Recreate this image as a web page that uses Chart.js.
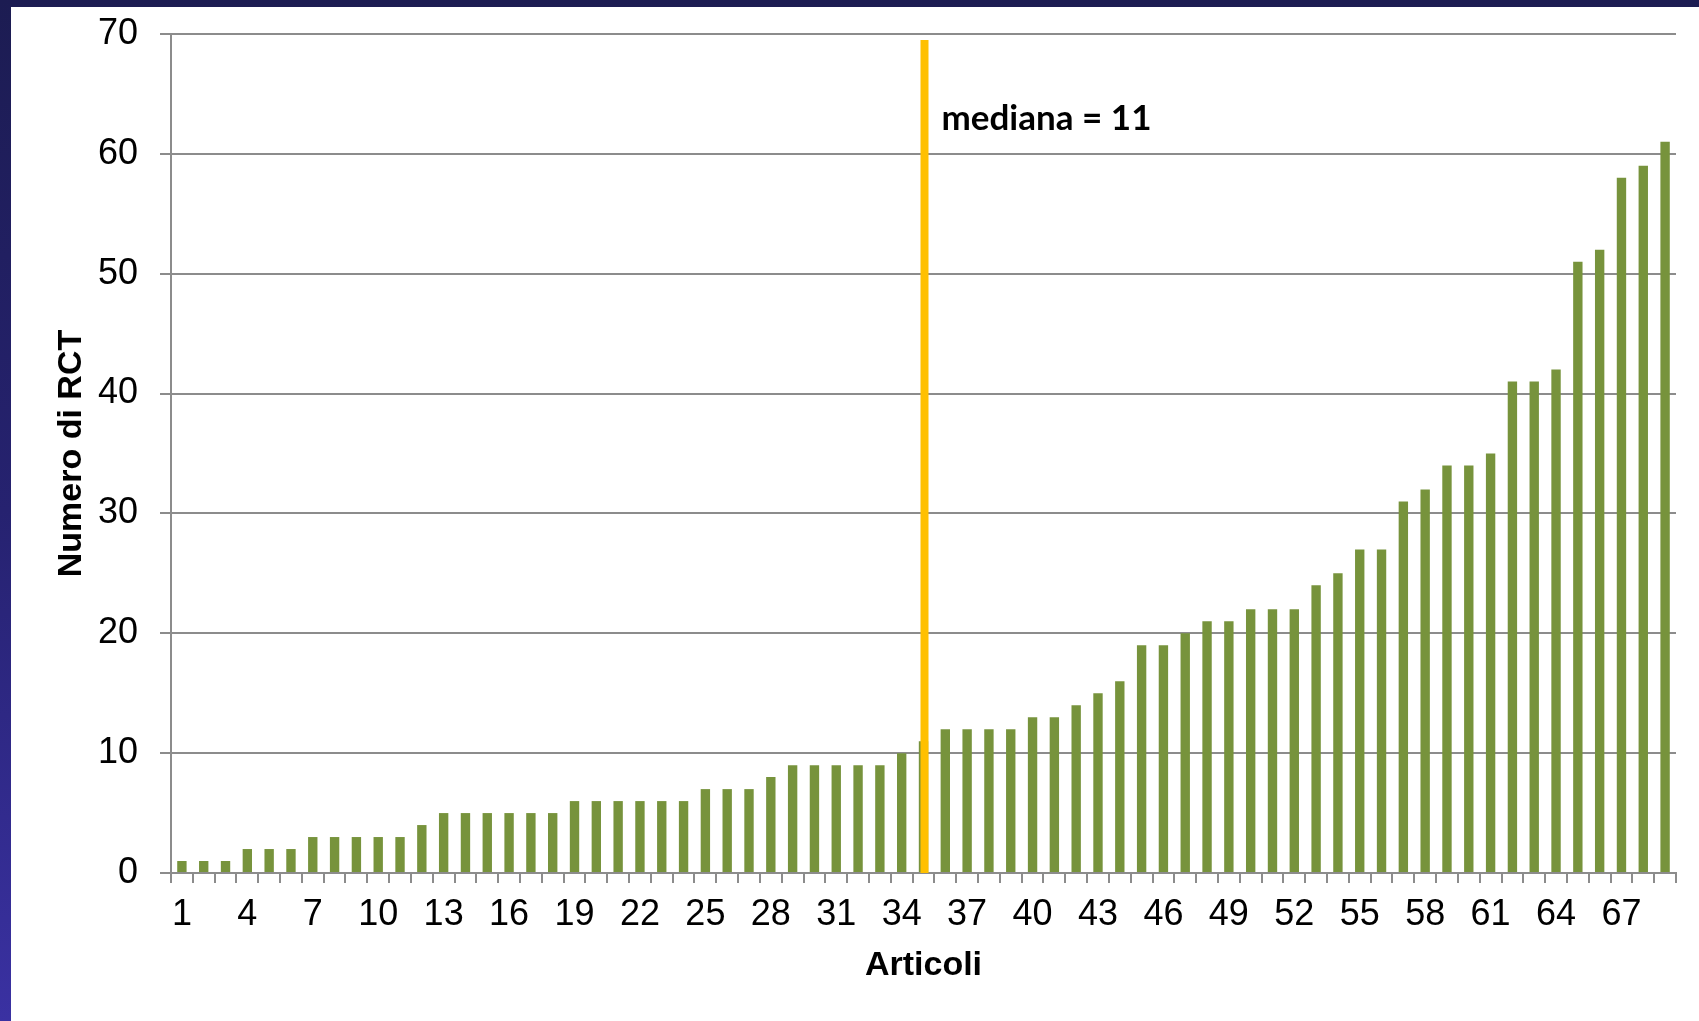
<!DOCTYPE html>
<html>
<head>
<meta charset="utf-8">
<title>Numero di RCT per articolo</title>
<script src="https://cdn.jsdelivr.net/npm/chart.js@4.4.0/dist/chart.umd.min.js"></script>
<style>
  html, body {
    margin: 0; padding: 0; width: 1699px; height: 1021px; overflow: hidden;
    background: linear-gradient(180deg, #1c1c52 0%, #262270 50%, #3a31a2 100%);
  }
  #panel { position: absolute; left: 11px; top: 7px; width: 1688px; height: 1014px; background: #ffffff; }
  canvas { display: block; }
</style>
</head>
<body>
<div id="panel"><canvas id="chart" width="1688" height="1014"></canvas></div>
<script>
// Articles, sorted by number of RCTs
const articoli = [
  1, 2, 3, 4, 5, 6, 7, 8, 9, 10,
  11, 12, 13, 14, 15, 16, 17, 18, 19, 20,
  21, 22, 23, 24, 25, 26, 27, 28, 29, 30,
  31, 32, 33, 34, 35, 36, 37, 38, 39, 40,
  41, 42, 43, 44, 45, 46, 47, 48, 49, 50,
  51, 52, 53, 54, 55, 56, 57, 58, 59, 60,
  61, 62, 63, 64, 65, 66, 67, 68, 69
];

// Number of RCTs in each article
const numeroRCT = [
  1, 1, 1, 2, 2, 2, 3, 3, 3, 3,
  3, 4, 5, 5, 5, 5, 5, 5, 6, 6,
  6, 6, 6, 6, 7, 7, 7, 8, 9, 9,
  9, 9, 9, 10, 11, 12, 12, 12, 12, 13,
  13, 14, 15, 16, 19, 19, 20, 21, 21, 22,
  22, 22, 24, 25, 27, 27, 31, 32, 34, 34,
  35, 41, 41, 42, 51, 52, 58, 59, 61
];

// Labels printed under the x axis
const etichetteX = [1, 4, 7, 10, 13, 16, 19, 22, 25, 28, 31, 34, 37, 40, 43, 46, 49, 52, 55, 58, 61, 64, 67];

// Y axis ticks
const tickY = [0, 10, 20, 30, 40, 50, 60, 70];

// Median article and the height reached by its marker line
const articoloMediano = 35;
const lineaMedianaFino = 69.5;

const GRIGIO = '#8c8c8c';
const FONT_TICK = "'Liberation Sans Narrow', 'Liberation Sans', Arial, sans-serif";
const FONT_TITOLO = "'Liberation Sans', Arial, sans-serif";

const indiceMediano = articoli.indexOf(articoloMediano);
const valoreMediano = numeroRCT[indiceMediano];

// Vertical marker at the median article, with its label
const lineaMediana = {
  id: 'lineaMediana',
  afterDatasetsDraw(chart) {
    const { ctx, scales: { x, y } } = chart;
    const px = x.getPixelForValue(indiceMediano) + 1;
    ctx.save();
    ctx.strokeStyle = '#ffc000';
    ctx.lineWidth = 8;
    ctx.beginPath();
    ctx.moveTo(px, y.getPixelForValue(0));
    ctx.lineTo(px, y.getPixelForValue(lineaMedianaFino));
    ctx.stroke();
    ctx.fillStyle = '#000000';
    ctx.font = "bold 35px Lato, 'Open Sans', sans-serif";
    ctx.textBaseline = 'alphabetic';
    ctx.textAlign = 'left';
    ctx.fillText('mediana = ' + valoreMediano, px + 17, y.getPixelForValue(62));
    ctx.restore();
  }
};

new Chart(document.getElementById('chart'), {
  type: 'bar',
  data: {
    labels: articoli,
    datasets: [{
      data: numeroRCT,
      backgroundColor: '#77933c',
      borderWidth: 0,
      barPercentage: 0.43,
      categoryPercentage: 1
    }]
  },
  options: {
    responsive: false,
    animation: false,
    devicePixelRatio: 1,
    layout: { padding: { left: 0, top: 27, right: 23, bottom: 0 } },
    plugins: { legend: { display: false }, tooltip: { enabled: false } },
    scales: {
      x: {
        offset: true,
        grid: {
          display: true, drawOnChartArea: false, drawTicks: true,
          tickLength: 10, offset: true, color: GRIGIO, lineWidth: 2
        },
        border: { display: true, color: GRIGIO, width: 2 },
        ticks: {
          autoSkip: false, maxRotation: 0, minRotation: 0, padding: 10,
          color: '#000000',
          font: { family: FONT_TICK, size: 36 },
          callback: (v, i) => etichetteX.includes(articoli[i]) ? String(articoli[i]) : ''
        },
        title: {
          display: true, text: 'Articoli', color: '#000000', padding: 35,
          font: { family: FONT_TITOLO, size: 34, weight: 'bold' }
        },
        afterFit: (s) => { s.height = 148; s.paddingLeft = 0; s.paddingRight = 0; }
      },
      y: {
        min: 0, max: 70,
        afterBuildTicks: (s) => { s.ticks = tickY.map(v => ({ value: v })); },
        grid: { color: GRIGIO, lineWidth: 2, drawTicks: true, tickLength: 11 },
        border: { display: true, color: GRIGIO, width: 2 },
        ticks: {
          padding: 22, color: '#000000',
          font: { family: FONT_TICK, size: 36 }
        },
        title: {
          display: true, text: 'Numero di RCT', color: '#000000', padding: 40,
          font: { family: FONT_TITOLO, size: 34, weight: 'bold' }
        },
        afterFit: (s) => { s.width = 160; s.paddingTop = 0; s.paddingBottom = 0; }
      }
    }
  },
  plugins: [lineaMediana]
});
</script>
</body>
</html>
